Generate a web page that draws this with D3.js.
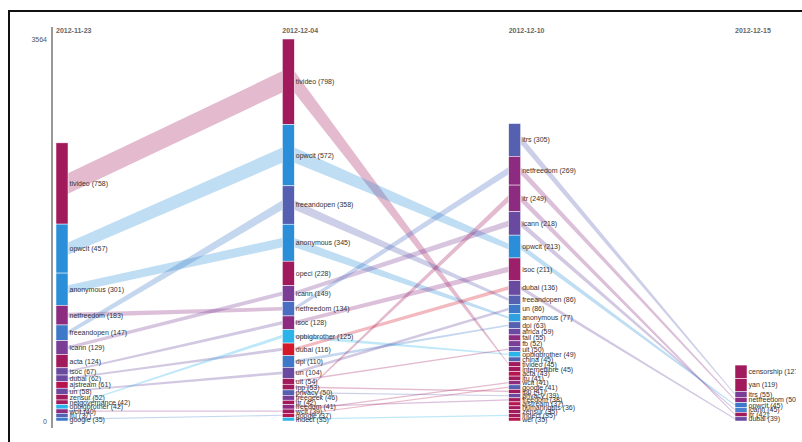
<!DOCTYPE html>
<html>
<head>
<meta charset="utf-8">
<script src="https://cdn.jsdelivr.net/npm/d3@7"></script>
<style>
  body { margin: 0; background: #fff; }
  svg text { font-family: "Liberation Sans", Arial, sans-serif; }
</style>
</head>
<body>
<svg width="802" height="442"></svg>
<script>
// one column per date, tags sorted by count (largest on top)
const dates = ["2012-11-23", "2012-12-04", "2012-12-10", "2012-12-15"];
const yMax = 3564;

const tags1 = ["tivideo", "opwcit", "anonymous", "netfreedom", "freeandopen", "icann", "acta", "isoc", "dubai",
  "ajstream", "un", "zensur", "netgovernance", "opbigbrother", "wcit", "itu", "google"];
const values1 = [758, 457, 301, 183, 147, 129, 124, 67, 62, 61, 58, 52, 42, 42, 40, 37, 35];

const tags2 = ["tivideo", "opwcit", "freeandopen", "anonymous", "opeci", "icann", "netfreedom", "isoc", "opbigbrother",
  "dubai", "dpi", "un", "uit", "ipp", "privacy", "freegeek", "itr", "freedom", "wcit", "google", "indect"];
const values2 = [798, 572, 358, 345, 228, 149, 134, 128, 125, 116, 110, 104, 54, 53, 50, 46, 42, 41, 39, 37, 35];

const tags3 = ["itrs", "netfreedom", "itr", "icann", "opwcit", "isoc", "dubai", "freeandopen", "un", "anonymous", "dpi",
  "africa", "fail", "fb", "uit", "opbigbrother", "china", "tivideo", "internetlibre", "acta", "itu", "wcit", "google",
  "ipp", "privacy", "freedom", "ajstream", "humanrights", "zensur", "indect", "wef"];
const values3 = [305, 269, 249, 218, 213, 211, 136, 86, 86, 77, 63, 59, 55, 52, 50, 49, 45, 45, 45, 43, 41, 41, 41,
  41, 39, 38, 37, 36, 35, 35, 35];

const tags4 = ["censorship", "yan", "itrs", "netfreedom", "opwcit", "icann", "itr", "dubai"];
const values4 = [127, 119, 55, 50, 45, 45, 42, 39];

// bar colours, same order as the tags
const MG = "#a11a5c", BL = "#2a8fd8", SL = "#5560b0", PU = "#7a3e97", PM = "#8c2b80",
      CY = "#2bb4ea", BB = "#3d79c8", VI = "#6a4aa0", CR = "#b8154e";
const colors1 = [MG, BL, BL, PM, BB, PU, MG, VI, VI, CR, VI, MG, MG, CY, PM, SL, BB];
const colors2 = [MG, BL, SL, BL, MG, PU, "#4a6fc2", PM, CY, "#d5182a", BB, VI, MG, MG, SL, PU, MG, PM, MG, CR, CY];
const colors3 = [SL, PM, PM, VI, BL, "#9b1f6b", VI, SL, BB, "#2fa0e0", SL, VI, PM, PU, VI, CY, SL, MG, MG, CR, MG,
  PM, SL, MG, VI, MG, CR, MG, MG, MG, CR];
const colors4 = [MG, MG, PU, PM, BB, "#4a80d0", MG, VI];

const columns = [
  { date: dates[0], tags: tags1, values: values1, colors: colors1 },
  { date: dates[1], tags: tags2, values: values2, colors: colors2 },
  { date: dates[2], tags: tags3, values: values3, colors: colors3 },
  { date: dates[3], tags: tags4, values: values4, colors: colors4 }
];

const W = 802, H = 442, barW = 12, linkRatio = 0.25;
const svg = d3.select("svg");

svg.append("defs").append("clipPath").attr("id", "clip")
  .append("rect").attr("width", 796).attr("height", H);

// frame
svg.append("path").attr("d", `M9,${H + 5} V11 H${W + 5}`)
  .attr("fill", "none").attr("stroke", "#111").attr("stroke-width", 2);

const x = d3.scalePoint().domain(dates).range([56, 735]);
const y = d3.scaleLinear().domain([0, yMax]).range([421, 39]);

// axis: only 0 and the max
const ag = svg.append("g").attr("transform", "translate(52,0)")
  .call(d3.axisLeft(y).tickValues([0, yMax]).tickFormat(d3.format("d")).tickSize(0).tickPadding(5));
ag.select(".domain").remove();
ag.attr("font-family", null).attr("font-size", 7);
ag.selectAll("text").attr("fill", "#555");
ag.append("line").attr("y1", 27).attr("y2", 428).attr("stroke", "#999").attr("stroke-width", 2);

const nodes = columns.map((col, ci) => {
  const total = d3.sum(col.values);
  const cum = d3.cumsum(col.values);
  return col.tags.map((t, i) => ({
    tag: t, value: col.values[i], color: col.colors[i], ci,
    x: x(col.date),
    y0: y(total - cum[i] + col.values[i]),
    y1: y(total - cum[i])
  }));
});

// same tag in two neighbouring columns -> band
const links = [];
for (let c = 0; c < nodes.length - 1; c++) {
  const next = new Map(nodes[c + 1].map(n => [n.tag, n]));
  nodes[c].forEach(s => { const t = next.get(s.tag); if (t) links.push({ s, t }); });
}

const band = d3.area().x(d => d.x).y0(d => d.y0).y1(d => d.y1);
const half = n => Math.max(0.6, (n.y1 - n.y0) * linkRatio / 2);
const mid = n => (n.y0 + n.y1) / 2;

const g = svg.append("g").attr("clip-path", "url(#clip)");

g.append("g").selectAll("path").data(links).join("path")
  .attr("d", l => band([
    { x: l.s.x + barW, y0: mid(l.s) - half(l.s), y1: mid(l.s) + half(l.s) },
    { x: l.t.x, y0: mid(l.t) - half(l.t), y1: mid(l.t) + half(l.t) }
  ]))
  .attr("fill", l => l.s.color)
  .attr("fill-opacity", 0.3);

const colG = g.selectAll("g.col").data(nodes).join("g").attr("class", "col");

colG.selectAll("rect").data(d => d).join("rect")
  .attr("x", d => d.x).attr("y", d => d.y0)
  .attr("width", barW).attr("height", d => d.y1 - d.y0)
  .attr("fill", d => d.color)
  .attr("stroke", "#fff").attr("stroke-width", 0.5);

colG.selectAll("text").data(d => d).join("text")
  .attr("x", d => d.x + barW + 1.5).attr("y", mid)
  .attr("dy", "0.35em")
  .attr("font-size", 7).attr("fill", "#333")
  .text(d => `${d.tag} (${d.value})`);

g.selectAll("text.date").data(dates).join("text").attr("class", "date")
  .attr("x", d => x(d)).attr("y", 31).attr("dy", "0.35em")
  .attr("font-size", 7).attr("font-weight", "bold").attr("fill", "#666")
  .text(d => d);
</script>
</body>
</html>
